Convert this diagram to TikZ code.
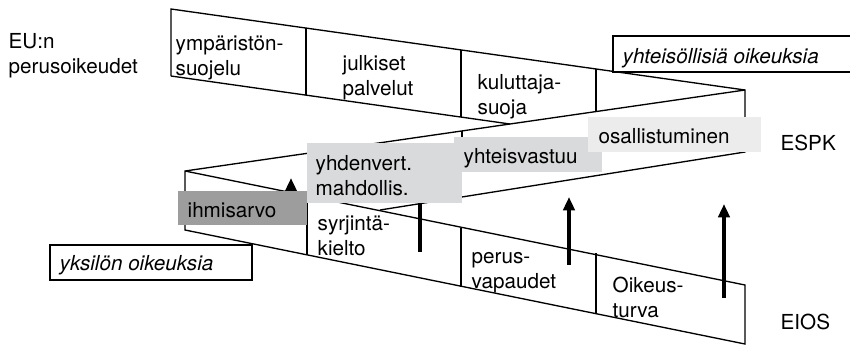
\documentclass[tikz,border=0pt]{standalone}
\usepackage{fontspec}
\setmainfont{TeX Gyre Heros}
\usepackage{xcolor}
\usetikzlibrary{arrows.meta}
\definecolor{boxdark}{HTML}{9D9D9D}
\definecolor{boxmid}{HTML}{D9DADB}
\definecolor{boxlight}{HTML}{EBECEB}

\begin{document}
\begin{tikzpicture}[x=0.75pt,y=-0.75pt,line width=1pt,
    lbl/.style={anchor=base west,inner sep=0pt,align=left,
      font=\fontsize{15.5}{18.75}\selectfont},
    ital/.style={lbl,font=\fontsize{15.5}{18.75}\selectfont\itshape},
    uparrow/.style={-{Triangle[length=10pt,width=8.5pt]},line width=3pt}]
  \useasboundingbox (0,0) rectangle (850,344);

  % upper band, fold on the right, middle band, fold on the left, lower band
  \draw (171,76) -- (171,9) -- (745,90) -- (745,152) -- (380,210);
  \draw (171,76) -- (510,124);
  \draw (745,90) -- (185,171) -- (185,230) -- (745,344) -- (745,285) -- (185,171);
  \draw (306,28) -- (306,95);
  \draw (461,50) -- (461,117);
  \draw (596,69) -- (596,111.5);
  \draw (462,131) -- (462,140);
  \draw (307,196) -- (307,255);
  \draw (461,228) -- (461,287);
  \draw (596,253) -- (596,314);

  % arrows between the two charters
  \draw[uparrow] (291,215) -- (291,178);
  \draw[uparrow] (420,252) -- (420,176);
  \draw[uparrow] (569,265) -- (569,197);
  \draw[uparrow] (724,298) -- (724,204);

  % grey boxes
  \fill[boxdark] (178,191) rectangle (307,225);
  \fill[boxmid] (307,143) rectangle (462,203);
  \fill[boxmid] (454,137) rectangle (602,172);
  \fill[boxlight] (588,117) rectangle (761,152);

  \draw[fill=white] (613,36) rectangle (853,72);
  \draw[fill=white] (50,245) rectangle (252,280);

  % two-line labels sit on the baseline of their last line
  \node[lbl] (eun) at (8,73) {EU:n\\perusoikeudet};
  \node[lbl] (ymp) at (175,75) {ympäristön-\\suojelu};
  \node[lbl] (julk) at (342,95) {julkiset\\palvelut};
  \node[lbl] (kulu) at (477,114) {kuluttaja-\\suoja};
  \node[ital] (yhtoik) at (622,63) {yhteisöllisiä oikeuksia};
  \node[lbl] (osal) at (598,143) {osallistuminen};
  \node[lbl] (espk) at (780,150) {ESPK};
  \node[lbl] (yhtv) at (463,163) {yhteisvastuu};
  \node[lbl] (yhden) at (315,195) {yhdenvert.\\mahdollis.};
  \node[lbl] (ihmi) at (187,217) {ihmisarvo};
  \node[lbl] (syrj) at (317,255) {syrjintä-\\kielto};
  \node[ital] (yksi) at (59,270) {yksilön oikeuksia};
  \node[lbl] (perus) at (471,288) {perus-\\vapaudet};
  \node[lbl] (oik) at (612,317) {Oikeus-\\turva};
  \node[lbl] (eios) at (780,329) {EIOS};
\end{tikzpicture}
\end{document}
